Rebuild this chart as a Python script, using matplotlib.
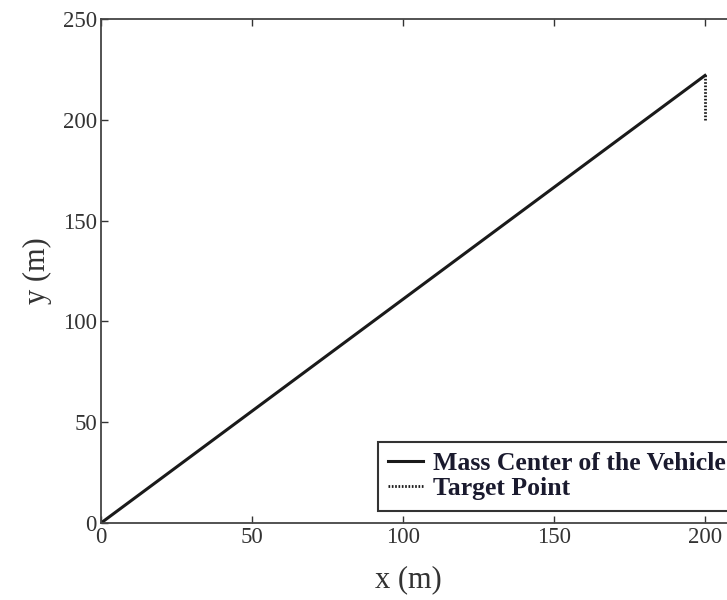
import numpy as np
import matplotlib.pyplot as plt

plt.rcParams['font.family'] = ['Liberation Serif', 'DejaVu Serif']

# trajectory of the vehicle mass centre and the target point
mass_x = [0, 200]
mass_y = [0, 222]
target_x = [200, 200]
target_y = [222, 200]

xticks = [0, 50, 100, 150, 200]
yticks = [0, 50, 100, 150, 200, 250]

fig = plt.figure(figsize=(7.27, 6.0), dpi=100)
# axes run past the right edge, as in the cropped original
ax = fig.add_axes([101 / 727, 77 / 600, 755 / 727, 504 / 600])

ax.plot(mass_x, mass_y, color='#1a1a1a', lw=2.2, label='Mass Center of the Vehicle')
ax.plot(target_x, target_y, color='#1a1a1a', lw=2.0, ls=(0, (0.6, 0.6)), label='Target Point')

ax.set_xlim(0, 250)
ax.set_ylim(0, 250)
ax.set_xticks(xticks)
ax.set_yticks(yticks)
ax.tick_params(direction='in', length=5, width=1, labelsize=16.5, colors='#333333',
               top=True, right=True, pad=3)
for s in ax.spines.values():
    s.set_linewidth(1.3)
    s.set_color('#444444')

ax.set_xlabel('x (m)', fontsize=22, color='#333333')
ax.xaxis.set_label_coords((408 - 101) / 755, -0.083)
ax.set_ylabel('y (m)', fontsize=22, color='#333333', labelpad=8)

leg = ax.legend(loc='upper left', bbox_to_anchor=((378 - 101) / 755, (523 - 442) / 504),
                borderaxespad=0, fancybox=False, edgecolor='#333333', framealpha=1,
                prop={'weight': 'bold', 'size': 18.5}, handlelength=1.35,
                handletextpad=0.4, borderpad=0.4, labelspacing=0.08)
leg.get_frame().set_linewidth(1.5)
for t in leg.get_texts():
    t.set_color('#1a1a2e')

fig.savefig('out.png', dpi=100)
